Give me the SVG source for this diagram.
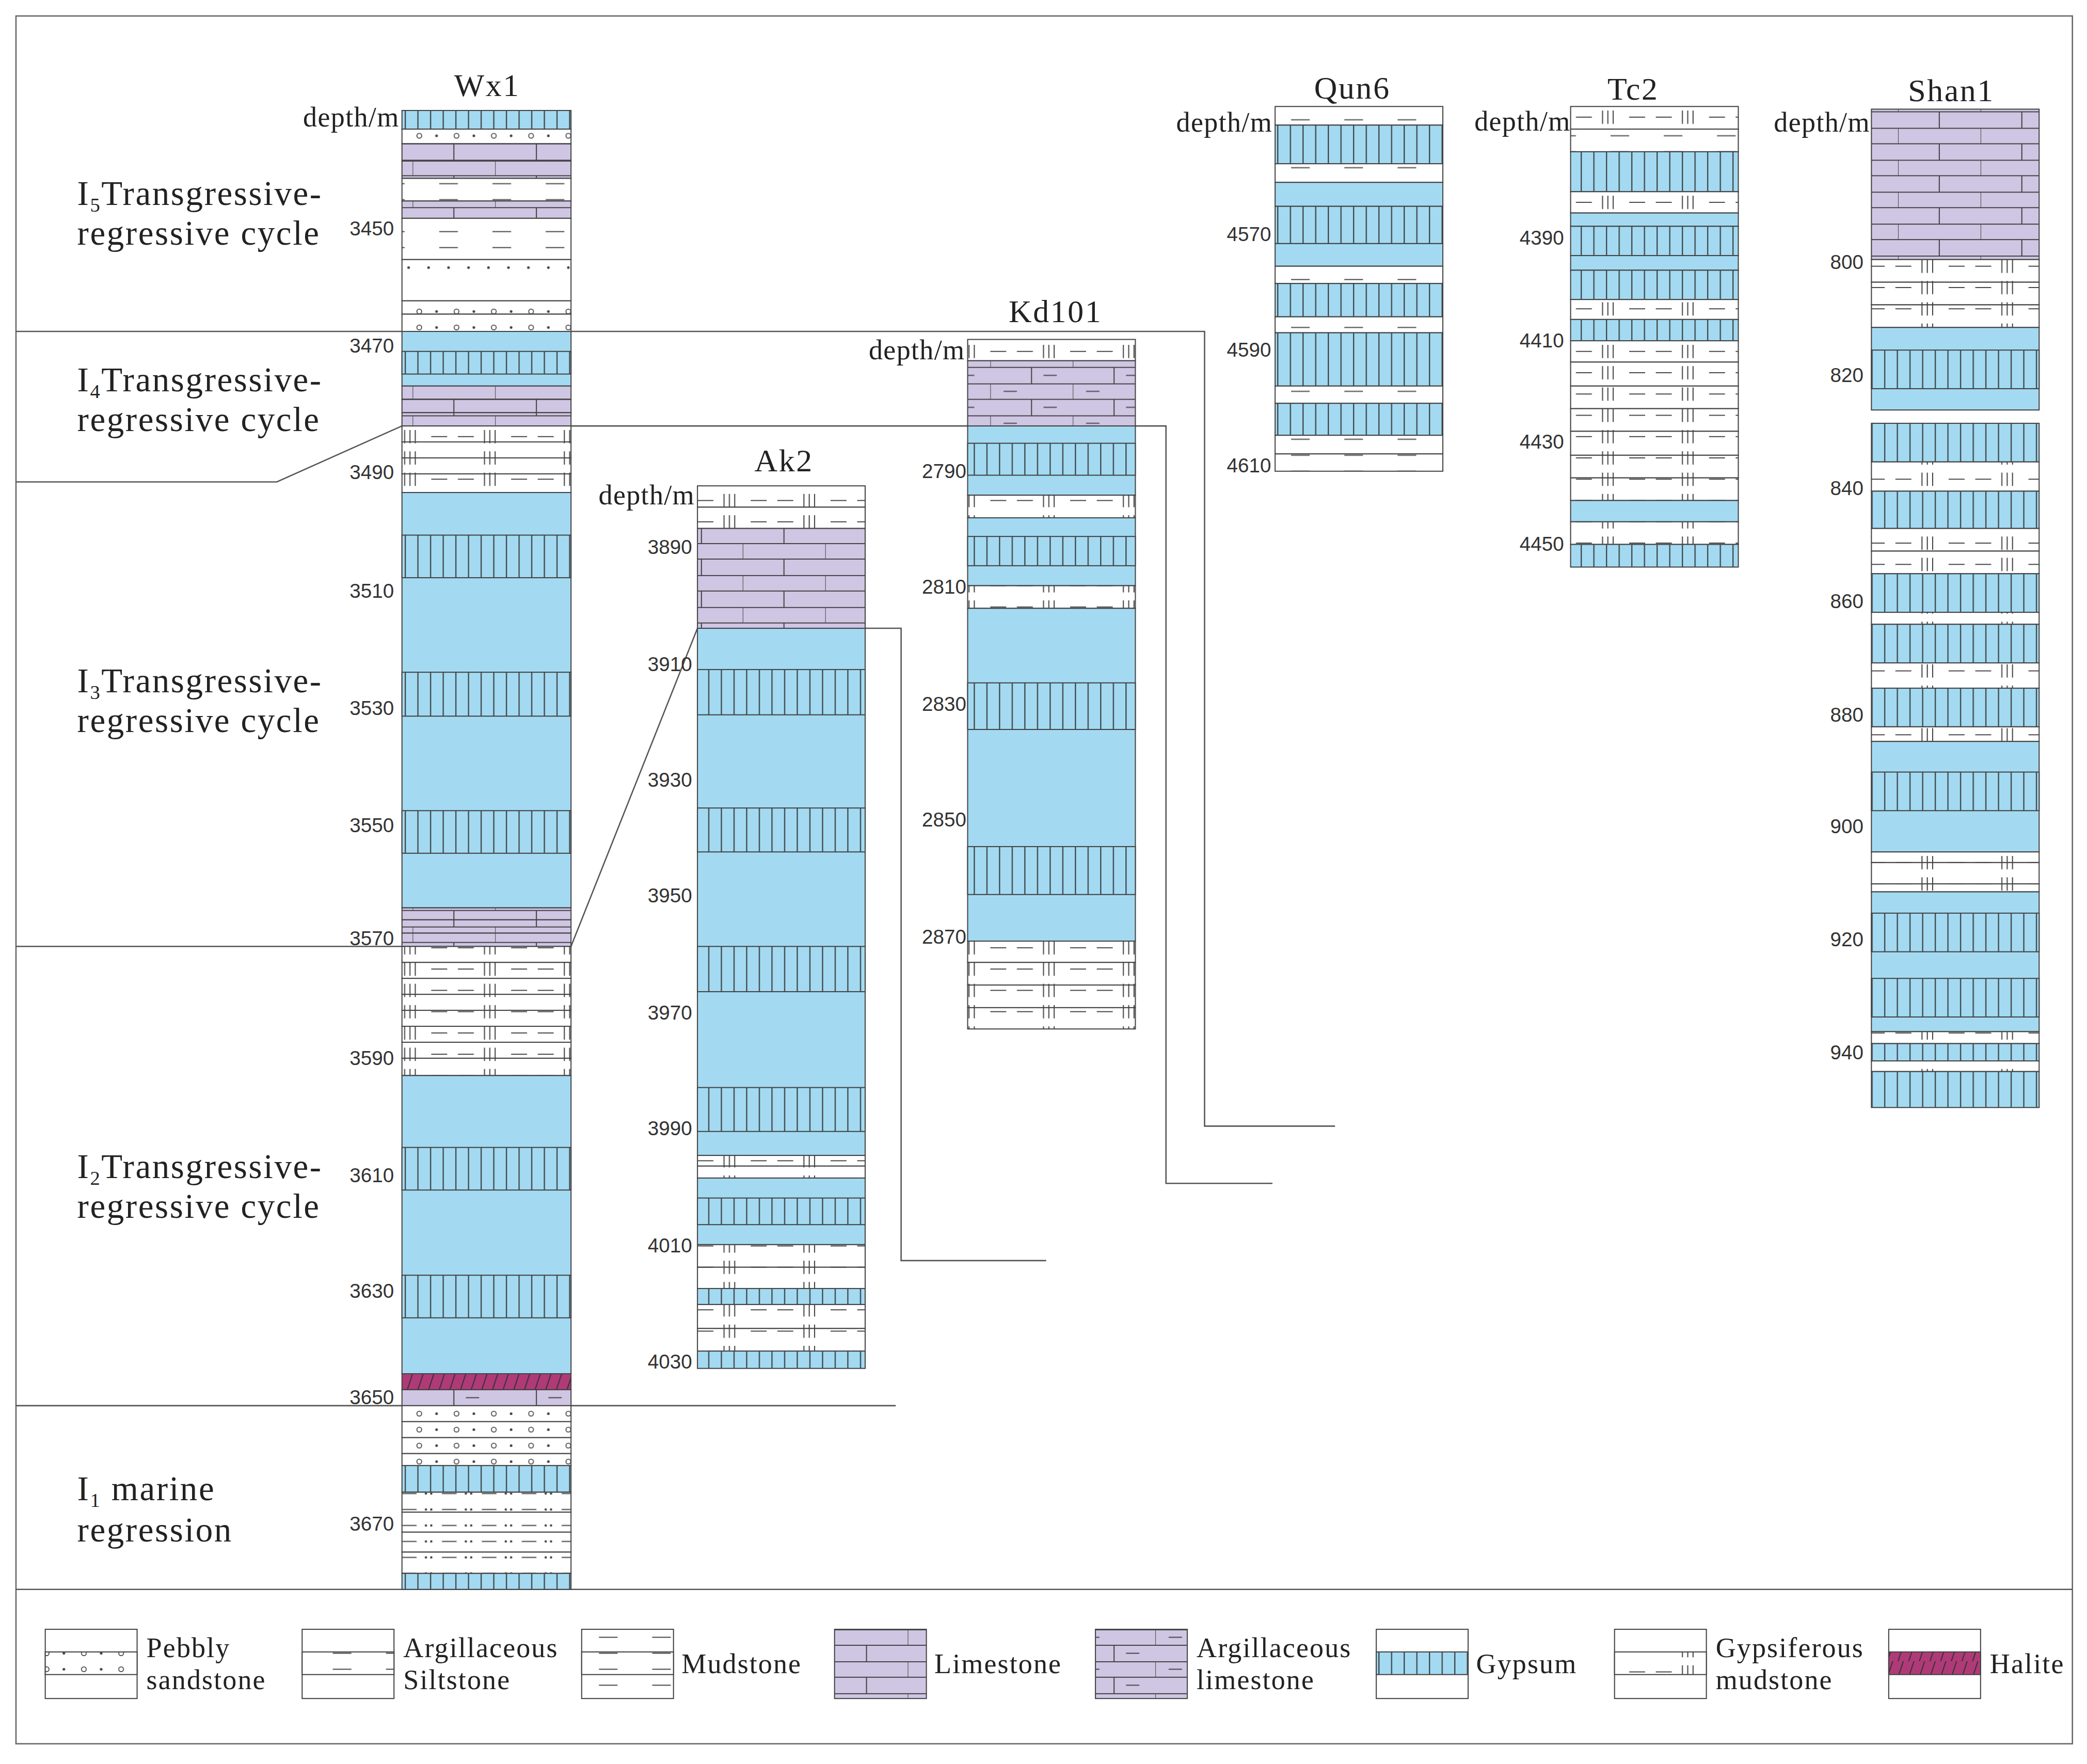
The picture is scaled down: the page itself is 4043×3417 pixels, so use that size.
<svg xmlns="http://www.w3.org/2000/svg" width="4043" height="3417" viewBox="0 0 4043 3417">
<defs>
<pattern id="gyp" patternUnits="userSpaceOnUse" width="9.5" height="10"><rect width="9.5" height="10" fill="#a3daf2"/><line x1="0.5" y1="0" x2="0.5" y2="10" stroke="#333" stroke-width="0.8"/></pattern>
<pattern id="lime" patternUnits="userSpaceOnUse" width="62" height="24"><rect width="62" height="24" fill="#cfc6e3"/><path d="M0 0.4H62M0 12H62M0 0V12M31 12V24" stroke="#444" stroke-width="0.8" fill="none"/></pattern>
<pattern id="alime" patternUnits="userSpaceOnUse" width="62" height="24"><rect width="62" height="24" fill="#cfc6e3"/><path d="M0 0.4H62M0 12H62M0 0V12M31 12V24M10 6H20M40 18H50" stroke="#444" stroke-width="0.8" fill="none"/></pattern>
<pattern id="mud" patternUnits="userSpaceOnUse" width="40" height="12"><rect width="40" height="12" fill="#fff"/><path d="M10 6H24" stroke="#444" stroke-width="0.8"/></pattern>
<pattern id="gm" patternUnits="userSpaceOnUse" width="60" height="16"><rect width="60" height="16" fill="#fff"/><path d="M4 3V13M8 3V13M12 3V13M24 8H36M44 8H56" stroke="#444" stroke-width="0.8"/></pattern>
<pattern id="peb" patternUnits="userSpaceOnUse" width="28" height="12"><rect width="28" height="12" fill="#fff"/><circle cx="7" cy="6" r="1.8" fill="none" stroke="#444" stroke-width="0.7"/><circle cx="20" cy="6" r="1" fill="#444"/></pattern>
<pattern id="dot" patternUnits="userSpaceOnUse" width="15" height="31"><rect width="15" height="31" fill="#fff"/><circle cx="7" cy="15" r="1" fill="#444"/></pattern>
<pattern id="silt" patternUnits="userSpaceOnUse" width="30" height="12"><rect width="30" height="12" fill="#fff"/><path d="M2 6H13" stroke="#444" stroke-width="0.8"/><circle cx="20" cy="6" r="0.9" fill="#444"/><circle cx="24" cy="6" r="0.9" fill="#444"/></pattern>
<pattern id="hal" patternUnits="userSpaceOnUse" width="8" height="12"><rect width="8" height="12" fill="#b03a78"/><path d="M2 12L6 0" stroke="#333" stroke-width="0.8"/></pattern>
</defs>
<style>
rect.x{stroke:#444;stroke-width:0.8}
.g{fill:url(#gyp)}.b{fill:#a3daf2}.l{fill:url(#lime)}.al{fill:url(#alime)}.m{fill:url(#mud)}.gm{fill:url(#gm)}.p{fill:url(#peb)}.h{fill:url(#hal)}.d{fill:url(#dot)}.s{fill:url(#silt)}
.dep{font-family:"Liberation Sans",Arial,sans-serif;font-size:15px;fill:#333;text-anchor:end}
.ttl{font-family:"Liberation Serif","Times New Roman",serif;font-size:24px;fill:#222;text-anchor:middle;letter-spacing:1px}
.dm{font-family:"Liberation Serif","Times New Roman",serif;font-size:21px;fill:#222;text-anchor:end;letter-spacing:0.5px}
.cyc{font-family:"Liberation Serif","Times New Roman",serif;font-size:26px;fill:#222;letter-spacing:1px}
.leg{font-family:"Liberation Serif","Times New Roman",serif;font-size:21px;fill:#222;letter-spacing:0.8px}
.cl{fill:none;stroke:#555;stroke-width:1}
</style>
<rect width="4043" height="3417" fill="#fff"/>
<g transform="scale(2.5785)">
<rect x="12" y="12" width="1545" height="1298" fill="none" stroke="#666" stroke-width="1"/>
<g id="connectors">
<line class="cl" x1="12" y1="1194" x2="1557" y2="1194"/>
<polyline class="cl" points="12,249 905,249 905,846 1003,846"/>
<polyline class="cl" points="12,362 208,362 302,320"/>
<polyline class="cl" points="429,320 876,320 876,889 956,889"/>
<polyline class="cl" points="12,711 429,711 524,472 677,472 677,947 786,947"/>
<polyline class="cl" points="12,1056 673,1056"/>
</g>
<g id="cycles">
<text class="cyc" x="58" y="154">I<tspan font-size="15" dy="5">5</tspan><tspan dy="-5">Transgressive-</tspan></text><text class="cyc" x="58" y="184">regressive cycle</text>
<text class="cyc" x="58" y="294">I<tspan font-size="15" dy="5">4</tspan><tspan dy="-5">Transgressive-</tspan></text><text class="cyc" x="58" y="324">regressive cycle</text>
<text class="cyc" x="58" y="520">I<tspan font-size="15" dy="5">3</tspan><tspan dy="-5">Transgressive-</tspan></text><text class="cyc" x="58" y="550">regressive cycle</text>
<text class="cyc" x="58" y="885">I<tspan font-size="15" dy="5">2</tspan><tspan dy="-5">Transgressive-</tspan></text><text class="cyc" x="58" y="915">regressive cycle</text>
<text class="cyc" x="58" y="1127">I<tspan font-size="15" dy="5">1</tspan><tspan dy="-5"> marine</tspan></text><text class="cyc" x="58" y="1158">regression</text>
</g>
<g id="Wx1">
<text class="ttl" x="366" y="72">Wx1</text><text class="dm" x="300" y="95">depth/m</text>
<rect class="x g" x="302" y="83" width="127" height="14"/>
<rect class="x p" x="302" y="97" width="127" height="11"/>
<rect class="x l" x="302" y="108" width="127" height="13"/>
<rect class="x l" x="302" y="121" width="127" height="13"/>
<rect class="x m" x="302" y="134" width="127" height="17"/>
<rect class="x l" x="302" y="151" width="127" height="13"/>
<rect class="x m" x="302" y="164" width="127" height="31"/>
<rect class="x d" x="302" y="195" width="127" height="31"/>
<rect class="x p" x="302" y="226" width="127" height="10"/>
<rect class="x p" x="302" y="236" width="127" height="13"/>
<rect class="x b" x="302" y="249" width="127" height="41"/>
<rect class="x g" x="302" y="264" width="127" height="17"/>
<rect class="x l" x="302" y="290" width="127" height="10"/>
<rect class="x l" x="302" y="300" width="127" height="10"/>
<rect class="x l" x="302" y="310" width="127" height="10"/>
<rect class="x gm" x="302" y="320" width="127" height="12"/>
<rect class="x gm" x="302" y="332" width="127" height="12"/>
<rect class="x gm" x="302" y="344" width="127" height="12"/>
<rect class="x gm" x="302" y="356" width="127" height="14"/>
<rect class="x b" x="302" y="370" width="127" height="312"/>
<rect class="x g" x="302" y="402" width="127" height="32"/>
<rect class="x g" x="302" y="505" width="127" height="33"/>
<rect class="x g" x="302" y="609" width="127" height="32"/>
<rect class="x l" x="302" y="682" width="127" height="9"/>
<rect class="x l" x="302" y="691" width="127" height="10"/>
<rect class="x l" x="302" y="701" width="127" height="10"/>
<rect class="x gm" x="302" y="711" width="127" height="12"/>
<rect class="x gm" x="302" y="723" width="127" height="12"/>
<rect class="x gm" x="302" y="735" width="127" height="12"/>
<rect class="x gm" x="302" y="747" width="127" height="12"/>
<rect class="x gm" x="302" y="759" width="127" height="12"/>
<rect class="x gm" x="302" y="771" width="127" height="12"/>
<rect class="x gm" x="302" y="783" width="127" height="12"/>
<rect class="x gm" x="302" y="795" width="127" height="13"/>
<rect class="x b" x="302" y="808" width="127" height="224"/>
<rect class="x g" x="302" y="862" width="127" height="32"/>
<rect class="x g" x="302" y="958" width="127" height="32"/>
<rect class="x h" x="302" y="1032" width="127" height="12"/>
<rect class="x al" x="302" y="1044" width="127" height="12"/>
<rect class="x p" x="302" y="1056" width="127" height="12"/>
<rect class="x p" x="302" y="1068" width="127" height="12"/>
<rect class="x p" x="302" y="1080" width="127" height="12"/>
<rect class="x p" x="302" y="1092" width="127" height="9"/>
<rect class="x g" x="302" y="1101" width="127" height="20"/>
<rect class="x s" x="302" y="1121" width="127" height="15"/>
<rect class="x s" x="302" y="1136" width="127" height="15"/>
<rect class="x s" x="302" y="1151" width="127" height="15"/>
<rect class="x s" x="302" y="1166" width="127" height="16"/>
<rect class="x g" x="302" y="1182" width="127" height="12"/>
<text class="dep" x="296" y="177">3450</text><text class="dep" x="296" y="265">3470</text><text class="dep" x="296" y="360">3490</text><text class="dep" x="296" y="449">3510</text><text class="dep" x="296" y="537">3530</text><text class="dep" x="296" y="625">3550</text><text class="dep" x="296" y="710">3570</text><text class="dep" x="296" y="800">3590</text><text class="dep" x="296" y="888">3610</text><text class="dep" x="296" y="975">3630</text><text class="dep" x="296" y="1055">3650</text><text class="dep" x="296" y="1150">3670</text>
</g>
<g id="Ak2">
<text class="ttl" x="589" y="354">Ak2</text><text class="dm" x="522" y="379">depth/m</text>
<rect class="x gm" x="524" y="365" width="126" height="16"/>
<rect class="x gm" x="524" y="381" width="126" height="16"/>
<rect class="x l" x="524" y="397" width="126" height="75"/>
<rect class="x b" x="524" y="472" width="126" height="396"/>
<rect class="x g" x="524" y="503" width="126" height="34"/>
<rect class="x g" x="524" y="607" width="126" height="33"/>
<rect class="x g" x="524" y="711" width="126" height="34"/>
<rect class="x g" x="524" y="817" width="126" height="33"/>
<rect class="x gm" x="524" y="868" width="126" height="8"/>
<rect class="x gm" x="524" y="876" width="126" height="9"/>
<rect class="x b" x="524" y="885" width="126" height="50"/>
<rect class="x g" x="524" y="900" width="126" height="20"/>
<rect class="x gm" x="524" y="935" width="126" height="17"/>
<rect class="x gm" x="524" y="952" width="126" height="16"/>
<rect class="x g" x="524" y="968" width="126" height="12"/>
<rect class="x gm" x="524" y="980" width="126" height="18"/>
<rect class="x gm" x="524" y="998" width="126" height="17"/>
<rect class="x g" x="524" y="1015" width="126" height="13"/>
<text class="dep" x="520" y="416">3890</text><text class="dep" x="520" y="504">3910</text><text class="dep" x="520" y="591">3930</text><text class="dep" x="520" y="678">3950</text><text class="dep" x="520" y="766">3970</text><text class="dep" x="520" y="853">3990</text><text class="dep" x="520" y="941">4010</text><text class="dep" x="520" y="1028">4030</text>
</g>
<g id="Kd101">
<text class="ttl" x="793" y="242">Kd101</text><text class="dm" x="725" y="270">depth/m</text>
<rect class="x gm" x="727" y="255" width="126" height="16"/>
<rect class="x al" x="727" y="271" width="126" height="49"/>
<rect class="x b" x="727" y="320" width="126" height="52"/>
<rect class="x g" x="727" y="333" width="126" height="24"/>
<rect class="x gm" x="727" y="372" width="126" height="17"/>
<rect class="x b" x="727" y="389" width="126" height="51"/>
<rect class="x g" x="727" y="403" width="126" height="22"/>
<rect class="x gm" x="727" y="440" width="126" height="17"/>
<rect class="x b" x="727" y="457" width="126" height="250"/>
<rect class="x g" x="727" y="513" width="126" height="35"/>
<rect class="x g" x="727" y="636" width="126" height="36"/>
<rect class="x gm" x="727" y="707" width="126" height="16"/>
<rect class="x gm" x="727" y="723" width="126" height="17"/>
<rect class="x gm" x="727" y="740" width="126" height="17"/>
<rect class="x gm" x="727" y="757" width="126" height="16"/>
<text class="dep" x="726" y="359">2790</text><text class="dep" x="726" y="446">2810</text><text class="dep" x="726" y="534">2830</text><text class="dep" x="726" y="621">2850</text><text class="dep" x="726" y="709">2870</text>
</g>
<g id="Qun6">
<text class="ttl" x="1016" y="74">Qun6</text><text class="dm" x="956" y="99">depth/m</text>
<rect class="x m" x="958" y="80" width="126" height="14"/>
<rect class="x g" x="958" y="94" width="126" height="29"/>
<rect class="x m" x="958" y="123" width="126" height="14"/>
<rect class="x b" x="958" y="137" width="126" height="18"/>
<rect class="x g" x="958" y="155" width="126" height="28"/>
<rect class="x b" x="958" y="183" width="126" height="17"/>
<rect class="x m" x="958" y="200" width="126" height="13"/>
<rect class="x g" x="958" y="213" width="126" height="25"/>
<rect class="x m" x="958" y="238" width="126" height="12"/>
<rect class="x g" x="958" y="250" width="126" height="40"/>
<rect class="x m" x="958" y="290" width="126" height="13"/>
<rect class="x g" x="958" y="303" width="126" height="24"/>
<rect class="x m" x="958" y="327" width="126" height="14"/>
<rect class="x m" x="958" y="341" width="126" height="13"/>
<text class="dep" x="955" y="181">4570</text><text class="dep" x="955" y="268">4590</text><text class="dep" x="955" y="355">4610</text>
</g>
<g id="Tc2">
<text class="ttl" x="1227" y="75">Tc2</text><text class="dm" x="1180" y="98">depth/m</text>
<rect class="x gm" x="1180" y="80" width="126" height="17"/>
<rect class="x m" x="1180" y="97" width="126" height="17"/>
<rect class="x g" x="1180" y="114" width="126" height="30"/>
<rect class="x gm" x="1180" y="144" width="126" height="16"/>
<rect class="x b" x="1180" y="160" width="126" height="10"/>
<rect class="x g" x="1180" y="170" width="126" height="22"/>
<rect class="x b" x="1180" y="192" width="126" height="11"/>
<rect class="x g" x="1180" y="203" width="126" height="22"/>
<rect class="x gm" x="1180" y="225" width="126" height="15"/>
<rect class="x g" x="1180" y="240" width="126" height="16"/>
<rect class="x gm" x="1180" y="256" width="126" height="16"/>
<rect class="x gm" x="1180" y="272" width="126" height="18"/>
<rect class="x gm" x="1180" y="290" width="126" height="17"/>
<rect class="x gm" x="1180" y="307" width="126" height="17"/>
<rect class="x gm" x="1180" y="324" width="126" height="18"/>
<rect class="x gm" x="1180" y="342" width="126" height="17"/>
<rect class="x gm" x="1180" y="359" width="126" height="17"/>
<rect class="x b" x="1180" y="376" width="126" height="16"/>
<rect class="x gm" x="1180" y="392" width="126" height="17"/>
<rect class="x g" x="1180" y="409" width="126" height="17"/>
<text class="dep" x="1175" y="184">4390</text><text class="dep" x="1175" y="261">4410</text><text class="dep" x="1175" y="337">4430</text><text class="dep" x="1175" y="414">4450</text>
</g>
<g id="Shan1">
<text class="ttl" x="1466" y="76">Shan1</text><text class="dm" x="1405" y="99">depth/m</text>
<rect class="x l" x="1406" y="82" width="126" height="113"/>
<rect class="x gm" x="1406" y="195" width="126" height="17"/>
<rect class="x gm" x="1406" y="212" width="126" height="17"/>
<rect class="x gm" x="1406" y="229" width="126" height="17"/>
<rect class="x b" x="1406" y="246" width="126" height="62"/>
<rect class="x g" x="1406" y="263" width="126" height="29"/>
<rect class="x g" x="1406" y="318" width="126" height="29"/>
<rect class="x gm" x="1406" y="347" width="126" height="22"/>
<rect class="x g" x="1406" y="369" width="126" height="28"/>
<rect class="x gm" x="1406" y="397" width="126" height="17"/>
<rect class="x gm" x="1406" y="414" width="126" height="17"/>
<rect class="x g" x="1406" y="431" width="126" height="29"/>
<rect class="x gm" x="1406" y="460" width="126" height="9"/>
<rect class="x g" x="1406" y="469" width="126" height="29"/>
<rect class="x gm" x="1406" y="498" width="126" height="19"/>
<rect class="x g" x="1406" y="517" width="126" height="29"/>
<rect class="x gm" x="1406" y="546" width="126" height="11"/>
<rect class="x b" x="1406" y="557" width="126" height="83"/>
<rect class="x g" x="1406" y="580" width="126" height="29"/>
<rect class="x gm" x="1406" y="640" width="126" height="8"/>
<rect class="x gm" x="1406" y="648" width="126" height="16"/>
<rect class="x gm" x="1406" y="664" width="126" height="6"/>
<rect class="x b" x="1406" y="670" width="126" height="105"/>
<rect class="x g" x="1406" y="686" width="126" height="29"/>
<rect class="x g" x="1406" y="735" width="126" height="29"/>
<rect class="x gm" x="1406" y="775" width="126" height="9"/>
<rect class="x g" x="1406" y="784" width="126" height="13"/>
<rect class="x gm" x="1406" y="797" width="126" height="8"/>
<rect class="x g" x="1406" y="805" width="126" height="27"/>
<text class="dep" x="1400" y="202">800</text><text class="dep" x="1400" y="287">820</text><text class="dep" x="1400" y="372">840</text><text class="dep" x="1400" y="457">860</text><text class="dep" x="1400" y="542">880</text><text class="dep" x="1400" y="626">900</text><text class="dep" x="1400" y="711">920</text><text class="dep" x="1400" y="796">940</text>
</g>
<g id="legend">
<g id="leg-pebbly"><rect class="x" fill="#fff" x="34" y="1224" width="69" height="52"/><rect class="x p" x="34" y="1241" width="69" height="17"/><text class="leg" x="110" y="1245">Pebbly</text><text class="leg" x="110" y="1269">sandstone</text></g>
<g id="leg-silt"><rect class="x" fill="#fff" x="227" y="1224" width="69" height="52"/><rect class="x m" x="227" y="1241" width="69" height="17"/><text class="leg" x="303" y="1245">Argillaceous</text><text class="leg" x="303" y="1269">Siltstone</text></g>
<g id="leg-mud"><rect class="x m" x="437" y="1224" width="69" height="52"/><rect class="x m" x="437" y="1241" width="69" height="17"/><text class="leg" x="512" y="1257">Mudstone</text></g>
<g id="leg-lime"><rect class="x l" x="627" y="1224" width="69" height="52"/><text class="leg" x="702" y="1257">Limestone</text></g>
<g id="leg-alime"><rect class="x al" x="823" y="1224" width="69" height="52"/><text class="leg" x="899" y="1245">Argillaceous</text><text class="leg" x="899" y="1269">limestone</text></g>
<g id="leg-gyp"><rect class="x" fill="#fff" x="1034" y="1224" width="69" height="52"/><rect class="x g" x="1034" y="1241" width="69" height="17"/><text class="leg" x="1109" y="1257">Gypsum</text></g>
<g id="leg-gm"><rect class="x" fill="#fff" x="1213" y="1224" width="69" height="52"/><rect class="x gm" x="1213" y="1241" width="69" height="17"/><text class="leg" x="1289" y="1245">Gypsiferous</text><text class="leg" x="1289" y="1269">mudstone</text></g>
<g id="leg-halite"><rect class="x" fill="#fff" x="1419" y="1224" width="69" height="52"/><rect class="x h" x="1419" y="1241" width="69" height="17"/><text class="leg" x="1495" y="1257">Halite</text></g>
</g>
</g>
</svg>
